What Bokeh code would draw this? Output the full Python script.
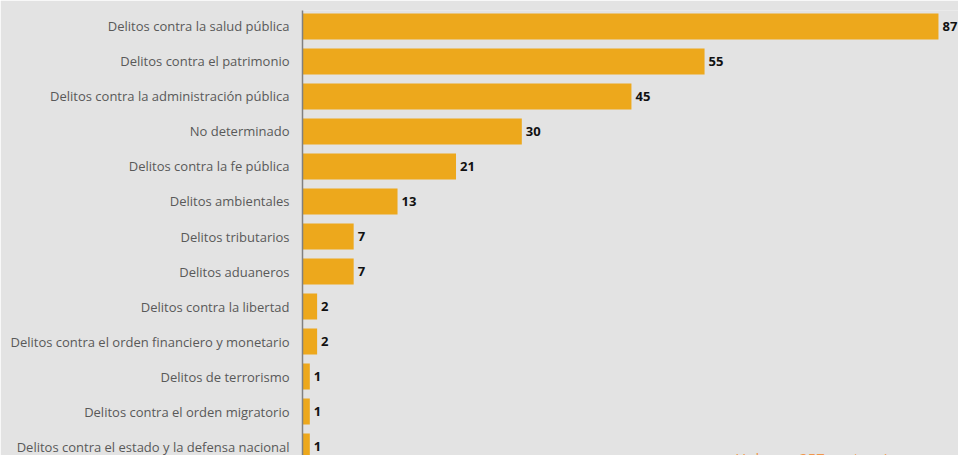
from bokeh.plotting import figure
from bokeh.models import Range1d, FixedTicker, ColumnDataSource
from bokeh.core.properties import value
from bokeh.embed import file_html
from bokeh.resources import INLINE
import numpy as np

categories = [
    "Delitos contra la salud pública",
    "Delitos contra el patrimonio",
    "Delitos contra la administración pública",
    "No determinado",
    "Delitos contra la fe pública",
    "Delitos ambientales",
    "Delitos tributarios",
    "Delitos aduaneros",
    "Delitos contra la libertad",
    "Delitos contra el orden financiero y monetario",
    "Delitos de terrorismo",
    "Delitos contra el orden migratorio",
    "Delitos contra el estado y la defensa nacional",
]
counts = [87, 55, 45, 30, 21, 13, 7, 7, 2, 2, 1, 1, 1]
note_text = "Hubo en 257 sentencias"

pos = np.arange(len(categories))
src = ColumnDataSource(dict(y=pos, v=counts, lab=[str(c) for c in counts]))

BG = "#e3e3e3"
p = figure(width=958, height=455, output_backend="svg", toolbar_location=None,
           x_range=Range1d(0, 89.74), y_range=Range1d(12.257, -0.457),
           min_border_left=302, min_border_right=0, min_border_top=10, min_border_bottom=0,
           background_fill_color=BG, border_fill_color=BG, outline_line_color=None,
           x_axis_location=None)
p.grid.visible = False

p.hbar(y="y", right="v", left=0, height=0.743, source=src, color="#eda81c", line_color=None)
p.text(x="v", y="y", text="lab", source=src, x_offset=4, text_baseline="middle",
       text_align="left", text_font=value("Open Sans"), text_font_style="bold",
       text_font_size="13px", text_color="#111111")

p.text(x=[59.2], y=[12.05], text=[note_text], text_baseline="top", text_align="left",
       text_font=value("Open Sans"), text_font_size="15px", text_color="#f0964a")

ax = p.yaxis[0]
ax.ticker = FixedTicker(ticks=list(pos))
ax.major_label_overrides = {int(i): c for i, c in zip(pos, categories)}
ax.major_tick_line_color = None
ax.minor_tick_line_color = None
ax.axis_line_color = "#808080"
ax.axis_line_width = 1.5
ax.major_label_standoff = 7
ax.major_label_text_font = "Open Sans"
ax.major_label_text_font_size = "13px"
ax.major_label_text_color = "#595959"

open("out.html", "w").write(file_html(p, INLINE))
